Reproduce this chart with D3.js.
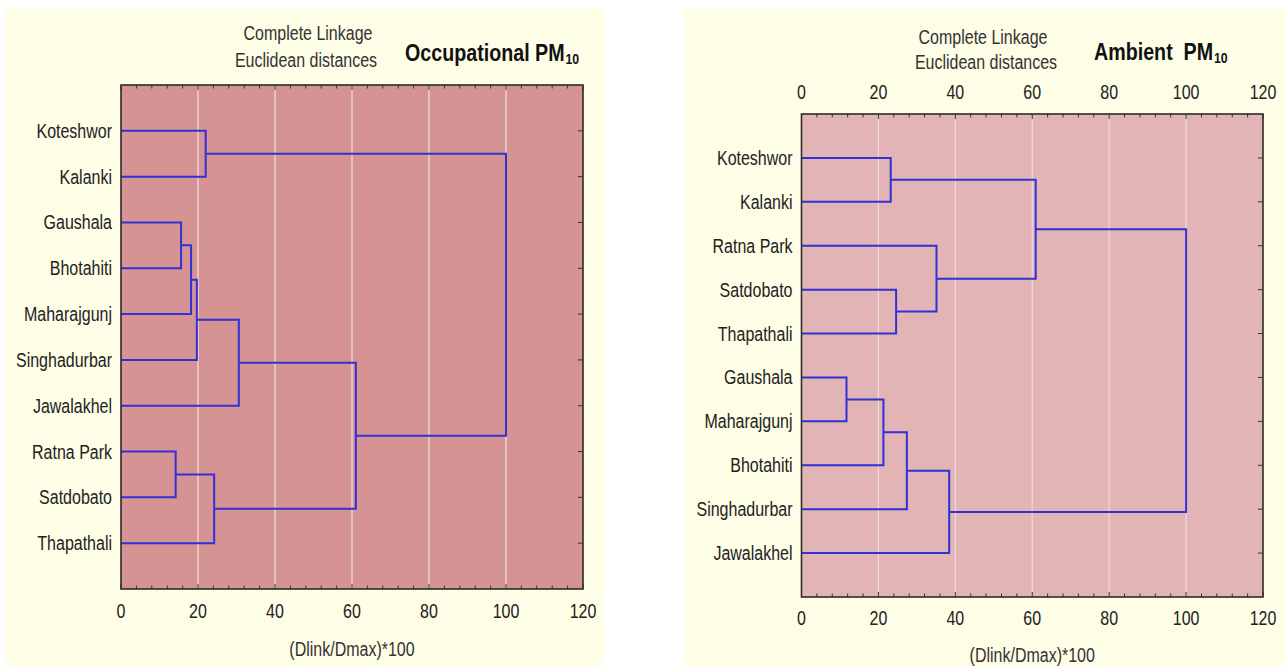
<!DOCTYPE html>
<html>
<head>
<meta charset="utf-8">
<script src="https://cdn.jsdelivr.net/npm/d3@7"></script>
<style>
  html, body { margin: 0; padding: 0; background: #ffffff; }
  svg { display: block; }
  text { font-family: 'Liberation Sans', Arial, sans-serif; }
</style>
</head>
<body>
<svg id="chart" width="1285" height="666"></svg>
<script>
// ---- Occupational PM10: leaf order and agglomeration steps ----
// Negative ids refer to leaves (-1 = first leaf), positive ids to earlier steps.
const occLeaves = ["Koteshwor", "Kalanki", "Gaushala", "Bhotahiti", "Maharajgunj",
                   "Singhadurbar", "Jawalakhel", "Ratna Park", "Satdobato", "Thapathali"];
const occMergeA  = [-8, -3, 2, 3, -1, 1, 4, 7, 5];
const occMergeB  = [-9, -4, -5, -6, -2, -10, -7, 6, 8];
const occHeights = [14.2, 15.6, 18.2, 19.7, 22.0, 24.2, 30.6, 61.0, 100];

// ---- Ambient PM10 ----
const ambLeaves = ["Koteshwor", "Kalanki", "Ratna Park", "Satdobato", "Thapathali",
                   "Gaushala", "Maharajgunj", "Bhotahiti", "Singhadurbar", "Jawalakhel"];
const ambMergeA  = [-6, 1, -1, -4, 2, -3, 5, 3, 8];
const ambMergeB  = [-7, -8, -2, -5, -9, 4, -10, 6, 7];
const ambHeights = [11.7, 21.3, 23.2, 24.6, 27.4, 35.1, 38.4, 60.9, 100];

// ---- shared axis ----
const distTicks = [0, 20, 40, 60, 80, 100, 120];
const distDomain = [0, 120];
const minorStep = 4;

const titleLine1 = "Complete Linkage";
const titleLine2 = "Euclidean distances";
const xAxisTitle = "(Dlink/Dmax)*100";

// narrow lettering: regular sans squeezed horizontally
const SX = 0.82;
const FS = 19.5;

const svg = d3.select("#chart");

const panels = [
  {
    leaves: occLeaves, A: occMergeA, B: occMergeB, H: occHeights,
    name: "Occupational PM", nameSub: "10",
    bg: [5, 8, 599, 658],
    plot: { left: 121, right: 583, top: 85, bottom: 589 },
    fill: "#d59393", grid: "#f1e3e3",
    topLabels: false,
    t1: [308, 40], t2: [306, 67], nameAt: [405, 61],
    bottomLabelY: 618, xTitleY: 656
  },
  {
    leaves: ambLeaves, A: ambMergeA, B: ambMergeB, H: ambHeights,
    name: "Ambient  PM", nameSub: "10",
    bg: [684, 9, 601, 657],
    plot: { left: 801.5, right: 1263, top: 114, bottom: 597 },
    fill: "#e2b4b5", grid: "#eddada",
    topLabels: true,
    t1: [983, 44], t2: [986, 69], nameAt: [1094, 60],
    topLabelY: 99, bottomLabelY: 625, xTitleY: 662
  }
];

const at = (x, y) => `translate(${x},${y}) scale(${SX},1)`;

function drawPanel(p) {
  const g = svg.append("g");
  const P = p.plot;

  // cream panel background
  g.append("rect")
    .attr("x", p.bg[0]).attr("y", p.bg[1])
    .attr("width", p.bg[2]).attr("height", p.bg[3])
    .attr("fill", "#fefde6");

  const x = d3.scaleLinear().domain(distDomain).range([P.left, P.right]);
  const y = d3.scalePoint().domain(p.leaves).range([P.top, P.bottom]).padding(1);

  // plot area
  g.append("rect")
    .attr("x", P.left).attr("y", P.top)
    .attr("width", P.right - P.left).attr("height", P.bottom - P.top)
    .attr("fill", p.fill);

  // vertical grid lines
  g.append("g").selectAll("line")
    .data(distTicks.filter(d => d > distDomain[0] && d < distDomain[1]))
    .join("line")
    .attr("x1", d => x(d)).attr("x2", d => x(d))
    .attr("y1", P.top).attr("y2", P.bottom)
    .attr("stroke", p.grid).attr("stroke-width", 1.2);

  // dendrogram elbows
  const nodes = [];
  const pos = id => id < 0 ? { h: 0, y: y(p.leaves[-id - 1]) } : nodes[id - 1];
  const segs = p.A.map((a, i) => {
    const pa = pos(a), pb = pos(p.B[i]), h = p.H[i];
    nodes.push({ h: h, y: (pa.y + pb.y) / 2 });
    return [[pa.h, pa.y], [h, pa.y], [h, pb.y], [pb.h, pb.y]];
  });
  const line = d3.line().x(d => x(d[0])).y(d => d[1]);
  g.append("g").selectAll("path")
    .data(segs)
    .join("path")
    .attr("d", line)
    .attr("fill", "none")
    .attr("stroke", "#3131d4")
    .attr("stroke-width", 2);

  // minor and major ticks pointing into the plot
  const minor = d3.range(distDomain[0], distDomain[1] + 1, minorStep);
  const tickG = g.append("g").attr("stroke", "#333").attr("stroke-width", 1);
  minor.forEach(v => {
    const len = distTicks.includes(v) ? 5 : 3.5;
    tickG.append("line").attr("x1", x(v)).attr("x2", x(v))
      .attr("y1", P.bottom).attr("y2", P.bottom - len);
    tickG.append("line").attr("x1", x(v)).attr("x2", x(v))
      .attr("y1", P.top).attr("y2", P.top + len);
  });
  p.leaves.forEach(l => {
    tickG.append("line").attr("x1", P.right).attr("x2", P.right - 5)
      .attr("y1", y(l)).attr("y2", y(l));
  });

  // frame
  g.append("rect")
    .attr("x", P.left).attr("y", P.top)
    .attr("width", P.right - P.left).attr("height", P.bottom - P.top)
    .attr("fill", "none").attr("stroke", "#2b2b2b").attr("stroke-width", 1.6);

  // leaf labels
  g.append("g").selectAll("text")
    .data(p.leaves)
    .join("text")
    .attr("transform", d => at(P.left - 9, y(d) + 7))
    .attr("text-anchor", "end")
    .attr("font-size", FS)
    .attr("fill", "#222")
    .text(d => d);

  // tick labels
  const tickLabels = (yy) => g.append("g").selectAll("text")
    .data(distTicks)
    .join("text")
    .attr("transform", d => at(x(d), yy))
    .attr("text-anchor", "middle")
    .attr("font-size", FS)
    .attr("fill", "#222")
    .text(d => d);
  tickLabels(p.bottomLabelY);
  if (p.topLabels) tickLabels(p.topLabelY);

  // axis title
  g.append("text")
    .attr("transform", at((P.left + P.right) / 2, p.xTitleY))
    .attr("text-anchor", "middle")
    .attr("font-size", FS).attr("fill", "#333")
    .text(xAxisTitle);

  // method titles
  g.append("text").attr("transform", at(p.t1[0], p.t1[1]))
    .attr("text-anchor", "middle").attr("font-size", FS).attr("fill", "#333")
    .text(titleLine1);
  g.append("text").attr("transform", at(p.t2[0], p.t2[1]))
    .attr("text-anchor", "middle").attr("font-size", FS).attr("fill", "#333")
    .text(titleLine2);

  // panel name with subscript
  const nt = g.append("text").attr("transform", at(p.nameAt[0], p.nameAt[1]))
    .attr("font-size", 24).attr("font-weight", "bold").attr("fill", "#111")
    .style("white-space", "pre");
  nt.append("tspan").text(p.name);
  nt.append("tspan").attr("font-size", 15).attr("dx", 1).attr("dy", 3).text(p.nameSub);
}

panels.forEach(drawPanel);
</script>
</body>
</html>
